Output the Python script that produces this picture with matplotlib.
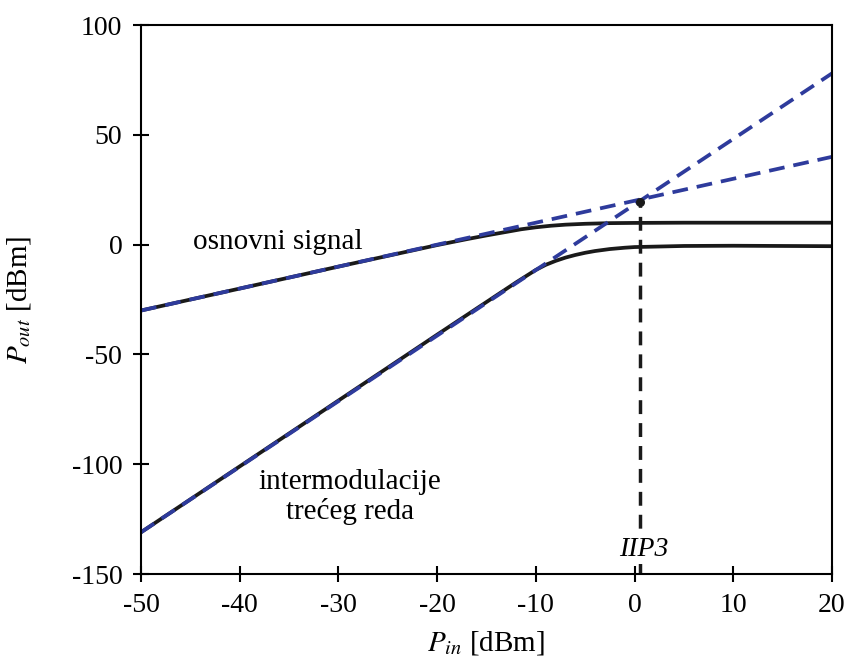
import numpy as np
import matplotlib
matplotlib.use("Agg")
import matplotlib.pyplot as plt

plt.rcParams['font.family'] = ['Liberation Serif', 'DejaVu Serif']
plt.rcParams['mathtext.fontset'] = 'stix'
plt.rcParams['axes.unicode_minus'] = False

# ideal (extrapolated) characteristics, end points in dBm
pin_ext = [-50, 20]
fund_ext = [-30, 40]
im3_ext = [-131, 78]

# real characteristics with compression
pin_fund = [-50, -30, -20, -17, -15, -13, -11.5, -10, -8.5, -7, -5, -2.5, 0, 5, 10, 20]
pout_fund = [-30, -10, -0.2, 2.5, 4.2, 5.8, 7.0, 7.9, 8.6, 9.1, 9.5, 9.8, 9.9, 10.0, 10.0, 10.0]

pin_im3 = [-50, -20, -12, -10, -9, -8, -7, -6, -5, -4, -2.5, -1, 0, 5, 10, 20]
pout_im3 = [-131, -41, -17.2, -11.5, -9.2, -7.4, -5.9, -4.7, -3.7, -2.9, -2.0, -1.4, -1.1, -0.6, -0.5, -0.7]

iip3 = 0.6
oip3 = 20.5

fig = plt.figure(figsize=(8.52, 6.6), dpi=100)
ax = fig.add_axes([0.1655, 0.1303, 0.811, 0.8317])

ax.plot(pin_fund, pout_fund, color='#1a1a1a', lw=2.7)
ax.plot(pin_im3, pout_im3, color='#1a1a1a', lw=2.7)
ax.plot(pin_ext, fund_ext, color='#2e3b9c', lw=2.7, dashes=(4.2, 2.4))
ax.plot(pin_ext, im3_ext, color='#2e3b9c', lw=2.7, dashes=(4.2, 2.4))

# IIP3 marker
ax.plot([iip3, iip3], [-150, oip3 - 1], color='#1a1a1a', lw=2.5, dashes=(4.0, 2.6))
ax.plot([iip3], [oip3 - 1], 'o', color='#1a1a1a', ms=5.5)

ax.text(-36.1, 1, 'osnovni signal', fontsize=21, ha='center', va='center')
ax.text(-28.8, -115, 'intermodulacije\ntrećeg reda', fontsize=21, ha='center',
        va='center', linespacing=1.15)
ax.text(0.9, -139, 'IIP3', fontsize=20, style='italic', ha='center', va='center',
        bbox=dict(facecolor='white', edgecolor='none', pad=1))

ax.set_xlim(-50, 20)
ax.set_ylim(-150, 100)
ax.set_xticks(np.arange(-50, 21, 10))
ax.set_yticks(np.arange(-150, 101, 50))
ax.tick_params(direction='inout', length=11, width=1.5, labelsize=20)
ax.tick_params(axis='y', pad=8)
ax.tick_params(axis='x', pad=8)
for s in ax.spines.values():
    s.set_linewidth(1.5)

ax.set_xlabel('$P_{in}$ [dBm]', fontsize=21, labelpad=8)
ax.set_ylabel('$P_{out}$ [dBm]', fontsize=21, labelpad=28)

fig.savefig('out.png', dpi=100)
